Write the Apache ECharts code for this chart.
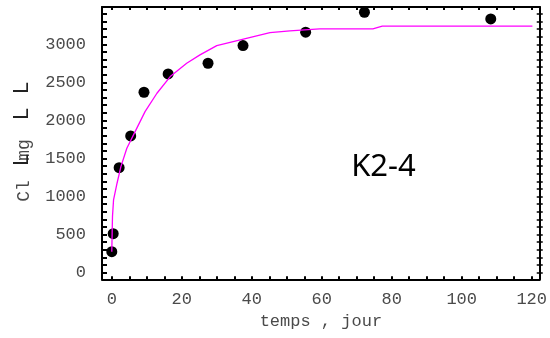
<!DOCTYPE html>
<html>
<head>
<meta charset="utf-8">
<script src="https://cdn.jsdelivr.net/npm/echarts@6/dist/echarts.min.js"></script>
<style>
  html, body { margin: 0; padding: 0; background: #fff; }
  #chart { width: 550px; height: 338px; }
</style>
</head>
<body>
<div id="chart"></div>
<script>
// Measured chloride concentration (K2-4) over time
const days = [0, 0.4, 2.1, 5.4, 9.2, 16.1, 27.5, 37.5, 55.4, 72.2, 108.3];
const chloride = [276, 512, 1379, 1796, 2370, 2611, 2751, 2983, 3159, 3421, 3334];

// Fitted model curve
const fitDays = [0, 0.1, 0.2, 0.5, 1.5, 2.6, 4.3, 6.2, 9.5, 12.9, 16.7, 21.4, 25.2, 30.0, 45.2, 50.9, 59.4, 74.6, 77.3, 120.2];
const fitValues = [276, 520, 740, 955, 1175, 1393, 1635, 1810, 2116, 2357, 2576, 2751, 2861, 2983, 3154, 3176, 3202, 3202, 3238, 3238];

// Tick labels
const xLabels = [0, 20, 40, 60, 80, 100, 120];
const yLabels = [0, 500, 1000, 1500, 2000, 2500, 3000];

const xTicks = [];
for (let v = 0; v <= 120; v += 5) xTicks.push(v);
const yTicks = [];
for (let v = 0; v <= 3400; v += 100) yTicks.push(v);

const X_MIN = -2.8, X_MAX = 122.3;
const Y_MIN = -87, Y_MAX = 3490;

const mono = 'Liberation Mono';
const labelColor = '#4a4a4a';
const frame = { show: true, onZero: false, lineStyle: { color: '#000', width: 2 } };
const plain = v => String(v);

const chart = echarts.init(document.getElementById('chart'), null, { renderer: 'canvas' });

chart.setOption({
  animation: false,
  backgroundColor: '#fff',
  grid: { left: 102, right: 9, top: 7, bottom: 58.7, containLabel: false },
  xAxis: [
    {
      type: 'value', position: 'bottom', min: X_MIN, max: X_MAX,
      axisLine: frame,
      axisTick: { show: true, inside: true, length: 3, customValues: xTicks, lineStyle: { color: '#000', width: 2 } },
      axisLabel: { customValues: xLabels, formatter: plain, margin: 12, fontFamily: mono, fontSize: 17, color: labelColor },
      splitLine: { show: false },
      name: 'temps , jour', nameLocation: 'middle', nameGap: 33,
      nameTextStyle: { fontFamily: mono, fontSize: 17, color: labelColor }
    },
    {
      type: 'value', position: 'top', min: X_MIN, max: X_MAX,
      axisLine: frame,
      axisTick: { show: true, inside: true, length: 3, customValues: xTicks, lineStyle: { color: '#000', width: 2 } },
      axisLabel: { show: false },
      splitLine: { show: false }
    }
  ],
  yAxis: [
    {
      type: 'value', position: 'left', min: Y_MIN, max: Y_MAX,
      axisLine: frame,
      axisTick: { show: true, inside: true, length: 5, customValues: yTicks, lineStyle: { color: '#000', width: 2 } },
      axisLabel: { customValues: yLabels, formatter: plain, margin: 16, fontFamily: mono, fontSize: 17, color: labelColor },
      splitLine: { show: false }
    },
    {
      type: 'value', position: 'right', min: Y_MIN, max: Y_MAX,
      axisLine: frame,
      axisTick: { show: true, inside: true, length: 3, customValues: yTicks, lineStyle: { color: '#000', width: 1.5 } },
      axisLabel: { show: false },
      splitLine: { show: false }
    },
    {
      type: 'value', position: 'right', min: Y_MIN, max: Y_MAX,
      axisLine: { show: false, onZero: false },
      axisTick: { show: true, inside: false, length: 3, customValues: yTicks, lineStyle: { color: '#000', width: 1.5 } },
      axisLabel: { show: false },
      splitLine: { show: false }
    }
  ],
  series: [
    {
      type: 'scatter', xAxisIndex: 0, yAxisIndex: 0,
      symbol: 'circle', symbolSize: 11,
      itemStyle: { color: '#000', opacity: 1 },
      data: days.map((d, i) => [d, chloride[i]]),
      z: 2
    },
    {
      type: 'line', xAxisIndex: 0, yAxisIndex: 0,
      showSymbol: false, smooth: false,
      lineStyle: { color: '#ff00ff', width: 1.3 },
      data: fitDays.map((d, i) => [d, fitValues[i]]),
      z: 3
    }
  ],
  graphic: [
    {
      type: 'text', x: 383.5, y: 167,
      style: { text: 'K2-4', fontFamily: 'Noto Sans', fontSize: 31, fill: '#000', align: 'center', verticalAlign: 'middle' }
    },
    // Vertical axis title, read bottom-to-top
    {
      type: 'text', x: 24, y: 191, rotation: Math.PI / 2,
      style: { text: 'Cl', fontFamily: mono, fontSize: 18, fill: labelColor, align: 'center', verticalAlign: 'middle' }
    },
    {
      type: 'text', x: 24, y: 150, rotation: Math.PI / 2,
      style: { text: 'mg', fontFamily: mono, fontSize: 18, fill: labelColor, align: 'center', verticalAlign: 'middle' }
    },
    {
      type: 'text', x: 22, y: 160, rotation: Math.PI / 2,
      style: { text: 'L', fontFamily: mono, fontSize: 22, fill: '#222', align: 'center', verticalAlign: 'middle' }
    },
    {
      type: 'text', x: 22, y: 114, rotation: Math.PI / 2,
      style: { text: 'L', fontFamily: mono, fontSize: 22, fill: '#222', align: 'center', verticalAlign: 'middle' }
    },
    {
      type: 'text', x: 22, y: 88, rotation: Math.PI / 2,
      style: { text: 'L', fontFamily: mono, fontSize: 22, fill: '#222', align: 'center', verticalAlign: 'middle' }
    }
  ]
});
</script>
</body>
</html>
